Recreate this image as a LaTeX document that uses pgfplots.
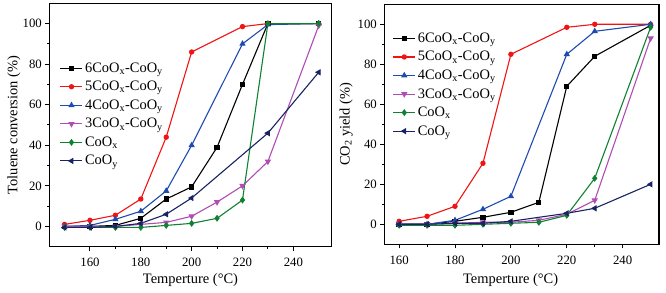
\documentclass[border=0pt]{standalone}
\usepackage{pgfplots}
\pgfplotsset{compat=1.18}
\usepackage{fontspec}
\setmainfont{Liberation Serif}
\definecolor{cblack}{RGB}{0,0,0}
\definecolor{cred}{RGB}{240,20,20}
\definecolor{cblue}{RGB}{30,75,175}
\definecolor{cmag}{RGB}{176,76,180}
\definecolor{cgreen}{RGB}{15,130,50}
\definecolor{cnavy}{RGB}{25,35,100}
\pgfplotsset{
  common/.style={
    scale only axis,
    ymin=-10, ymax=110,
    ytick={0,20,...,100},
    xtick={160,180,...,240},
    minor x tick num=1,
    minor y tick num=1,
    tick align=outside,
    xtick pos=bottom, ytick pos=left,
    major tick length=4bp, minor tick length=2.5bp,
    axis line style={line width=1.1bp},
    every tick/.style={line width=1bp, black},
    /pgf/number format/assume math mode=true,
    ticklabel style={font=\fontsize{12.8}{14}\selectfont},
    xticklabel style={yshift=-4bp},
    label style={font=\fontsize{14.5}{16}\selectfont, anchor=center},
    legend style={draw=none, fill=none, font=\fontsize{14.5}{16}\selectfont,
      row sep=3.5bp, inner sep=0pt, cells={anchor=west}},
    legend cell align=left,
    legend image code/.code={\draw[mark repeat=2,mark phase=2,#1] plot coordinates {(0bp,0bp) (11bp,0bp) (22bp,0bp)};},
    every axis plot/.append style={line width=1.1bp, mark size=2.1bp},
  },
  s6/.style={cblack, mark=square*},
  s5/.style={cred, mark=*},
  s4/.style={cblue, mark=triangle*, mark size=2.6bp},
  s3/.style={cmag, mark=triangle*, mark options={rotate=180}, mark size=2.6bp},
  sx/.style={cgreen, mark=diamond*, mark size=2.6bp},
  sy/.style={cnavy, mark=triangle*, mark options={rotate=90}, mark size=2.6bp},
}
\begin{document}
\begin{tikzpicture}
\useasboundingbox (0,0) rectangle (666bp,293bp);
\begin{axis}[common,
  at={(49.3bp,46.3bp)}, anchor=south west,
  width=282.4bp, height=243.4bp,
  xmin=144, xmax=255.1,
  xlabel={Temperture (°C)},
  ylabel={Toluene conversion (\%)},
  xlabel style={at={(axis description cs:0.5,-0.137)}},
  ylabel style={at={(axis description cs:-0.125,0.5)}},
  legend style={at={(0.037,0.765)}, anchor=north west},
]
\addplot[s6] coordinates {(150,0) (160,0) (170,0.5) (180,4) (190,13.5) (200,19.5) (210,39) (220,70) (230,100) (250,100)};
\addplot[s5] coordinates {(150,1) (160,3) (170,5.5) (180,13.5) (190,44) (200,86) (220,98.5) (230,100) (250,100)};
\addplot[s4] coordinates {(150,0) (160,0.5) (170,3.5) (180,7.5) (190,17.5) (200,40) (220,90) (230,99.5) (250,100)};
\addplot[s3] coordinates {(150,0) (160,0) (170,0) (180,1) (190,2) (200,5) (210,12) (220,20) (230,32) (250,99)};
\addplot[sx] coordinates {(150,-0.5) (160,-0.5) (170,-0.5) (180,-0.5) (190,0.5) (200,1.5) (210,4) (220,13) (230,100) (250,100)};
\addplot[sy] coordinates {(150,-0.5) (160,-0.5) (170,0) (180,1.5) (190,6) (200,14) (230,46) (250,76)};
\legend{6CoO\textsubscript{x}-CoO\textsubscript{y},5CoO\textsubscript{x}-CoO\textsubscript{y},4CoO\textsubscript{x}-CoO\textsubscript{y},3CoO\textsubscript{x}-CoO\textsubscript{y},CoO\textsubscript{x},CoO\textsubscript{y}}
\end{axis}
\begin{axis}[common,
  at={(384.3bp,48.7bp)}, anchor=south west,
  width=274.7bp, height=240bp,
  xmin=154.7, xmax=253,
  xlabel={Temperture (°C)},
  ylabel={CO\textsubscript{2} yield (\%)},
  xlabel style={at={(axis description cs:0.46,-0.149)}},
  ylabel style={at={(axis description cs:-0.139,0.5)}},
  legend style={at={(0.03,0.89)}, anchor=north west},
]
\addplot[s6] coordinates {(160,0) (170,0) (180,1.5) (190,3.5) (200,6) (210,11) (220,69) (230,84) (250,99.5)};
\addplot[s5] coordinates {(160,1.5) (170,4) (180,9) (190,30.5) (200,85) (220,98.5) (230,100) (250,100)};
\addplot[s4] coordinates {(160,0) (170,0) (180,2) (190,7.5) (200,14) (220,85) (230,96.5) (250,100)};
\addplot[s3] coordinates {(160,0) (170,0) (180,0.5) (190,1) (200,1) (210,2) (220,5) (230,12) (250,93)};
\addplot[sx] coordinates {(160,-0.5) (170,-0.5) (180,-0.5) (190,0) (200,0.5) (210,1) (220,4.5) (230,23) (250,98.5)};
\addplot[sy] coordinates {(160,0) (170,0) (180,0.5) (190,0.5) (200,1.5) (220,5.5) (230,8) (250,20)};
\legend{6CoO\textsubscript{x}-CoO\textsubscript{y},5CoO\textsubscript{x}-CoO\textsubscript{y},4CoO\textsubscript{x}-CoO\textsubscript{y},3CoO\textsubscript{x}-CoO\textsubscript{y},CoO\textsubscript{x},CoO\textsubscript{y}}
\end{axis}
\end{tikzpicture}
\end{document}
